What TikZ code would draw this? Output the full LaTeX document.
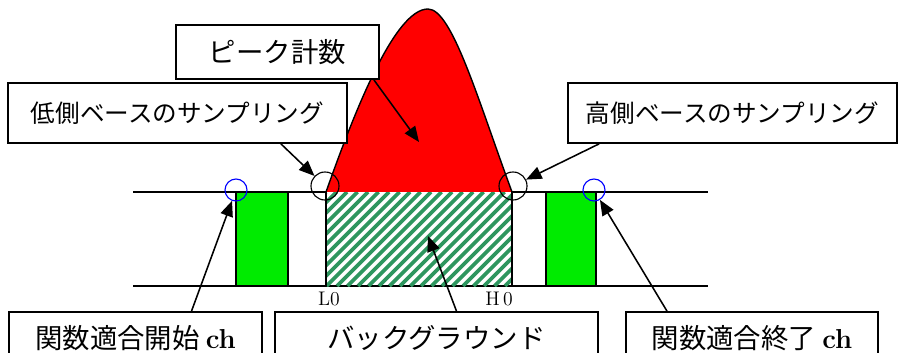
\documentclass[tikz,border=0pt]{standalone}
\usepackage{fontspec}
\newfontfamily\jpfont{Noto Sans CJK JP}
\usepackage{xcolor}
\definecolor{peakred}{RGB}{255,0,0}
\definecolor{fitgreen}{RGB}{0,235,0}
\definecolor{hatchgreen}{RGB}{46,150,95}
\usetikzlibrary{arrows.meta, calc}

\begin{document}
\begin{tikzpicture}[
  x=0.025cm, y=-0.025cm,
  notebox/.style={draw, line width=1.2pt, fill=white, inner sep=0pt,
    font=\fontsize{17.5}{20}\selectfont\jpfont},
  bignote/.style={notebox, font=\fontsize{19.5}{22}\selectfont\jpfont},
  pointer/.style={line width=1.1pt, -{Triangle[length=11pt,width=9pt]}},
  ring/.style={circle, draw, line width=0.8pt, inner sep=0pt},
  fitbar/.style={draw, line width=1pt, fill=fitgreen},
  chlabel/.style={font=\fontsize{14}{16}\selectfont\rmfamily},
]
\useasboundingbox (0,0) rectangle (898,353);

% base lines
\draw[line width=1pt] (133,192) -- (326,192);
\draw[line width=1pt] (512,192) -- (708,192);
\draw[line width=1pt] (133,286) -- (708,286);

% fit region bars
\draw[fitbar] (236,192) rectangle (288,286);
\draw[fitbar] (546,192) rectangle (596,286);

% background (hatched)
\begin{scope}
  \clip (326,192) rectangle (512,286);
  \foreach \s in {0,10.5,...,300}
    \draw[hatchgreen, line width=2.6pt] (326+\s-94,286) -- (326+\s,192);
\end{scope}
\draw[line width=1.4pt] (326,192) -- (326,286);
\draw[line width=1.4pt] (512,192) -- (512,286);

% peak
\fill[peakred] (326,192) .. controls (355,110) and (395,9) .. (428,9)
  .. controls (452,9) and (478,100) .. (512,192) -- cycle;
\draw[line width=1pt] (326,192) .. controls (355,110) and (395,9) .. (428,9)
  .. controls (452,9) and (478,100) .. (512,192);

% sampling points
\node[ring, minimum size=0.7cm] (lowring) at (325,186) {};
\node[ring, minimum size=0.7cm] (highring) at (513,186) {};
\node[ring, draw=blue, minimum size=0.55cm] (startring) at (236,190) {};
\node[ring, draw=blue, minimum size=0.55cm] (endring) at (594,190) {};
\coordinate (peakpt) at (419,142);
\coordinate (bgpt) at (428,236);

% labels
\node[bignote, minimum width=5.075cm, minimum height=1.35cm] (peakbox) at (277.5,52) {ピーク計数};
\node[notebox, minimum width=8.475cm, minimum height=1.5cm] (lowbox) at (177.5,113) {低側ベースのサンプリング};
\node[notebox, minimum width=8.225cm, minimum height=1.5cm] (highbox) at (732.5,113) {高側ベースのサンプリング};
\node[bignote, minimum width=6.325cm, minimum height=1.3cm] (startbox) at (135.5,338) {関数適合開始 {\rmfamily\bfseries ch}};
\node[bignote, minimum width=8.075cm, minimum height=1.3cm] (bgbox) at (436.5,338) {バックグラウンド};
\node[bignote, minimum width=6.3cm, minimum height=1.3cm] (endbox) at (752,338) {関数適合終了 {\rmfamily\bfseries ch}};

\node[chlabel] (lzero) at (329,299) {L0};
\node[chlabel] (hzero) at (499,299) {H\,0};

% arrows
\draw[pointer] ($(peakbox.south east)+(-6,0)$) -- (peakpt);
\draw[pointer] ($(lowbox.south east)+(-67,0)$) -- (lowring);
\draw[pointer] ($(highbox.south west)+(32,0)$) -- (highring);
\draw[pointer] ($(startbox.north)+(56,0)$) -- (startring);
\draw[pointer] ($(bgbox.north)+(20,0)$) -- (bgpt);
\draw[pointer] ($(endbox.north)+(-85,0)$) -- (endring);
\end{tikzpicture}
\end{document}
